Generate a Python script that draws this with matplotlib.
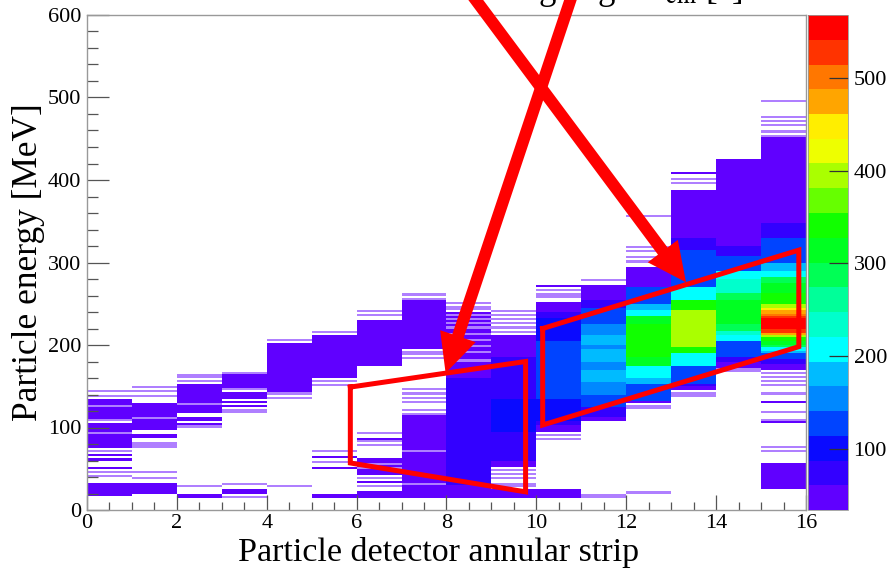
import numpy as np
import matplotlib
matplotlib.use("Agg")
import matplotlib.pyplot as plt
from matplotlib.colors import ListedColormap, BoundaryNorm
from matplotlib.ticker import MultipleLocator

plt.rcParams['font.family'] = ['Liberation Serif', 'DejaVu Serif']
plt.rcParams['mathtext.fontset'] = 'stix'

# ---------------- data ----------------
n_strips = 16
e_max = 600.0
bin_width = 2.5

# dense filled ranges: (strip, E low [MeV], E high [MeV], counts); later entries overwrite earlier
dense_segments = [
    (0, 76, 92, 47), (0, 96, 106, 47), (0, 110, 124, 47), (0, 128, 136, 47), (0, 18, 32, 47),
    (1, 97, 110, 47), (1, 113, 131, 47), (1, 21, 33, 47),
    (2, 117, 128, 47), (2, 131, 152, 47),
    (3, 136, 143, 47), (3, 147, 166, 47),
    (4, 142, 202, 47),
    (5, 160, 212, 47), (5, 178, 200, 60), (5, 16, 21, 47),
    (6, 174, 231, 47), (6, 188, 220, 60), (6, 42, 62, 47), (6, 16, 19, 47),
    (7, 196, 255, 47), (7, 208, 242, 60), (7, 16, 118, 47), (7, 45, 95, 60),
    (8, 176, 240, 47), (8, 18, 174, 47), (8, 30, 160, 66), (8, 45, 110, 74),
    (9, 52, 212, 47), (9, 60, 185, 74), (9, 95, 135, 101), (9, 15, 24, 47),
    (10, 97, 252, 47), (10, 102, 240, 74), (10, 108, 232, 101), (10, 135, 205, 127),
    (10, 16, 24, 47),
    (11, 107, 273, 47), (11, 112, 255, 74), (11, 125, 246, 127), (11, 140, 226, 154),
    (11, 155, 212, 181), (11, 170, 180, 154), (11, 195, 200, 154),
    (12, 129, 295, 47), (12, 133, 271, 127), (12, 153, 250, 181), (12, 160, 242, 207),
    (12, 174, 234, 314), (12, 185, 225, 341),
    (13, 145, 388, 47), (13, 150, 330, 74), (13, 153, 315, 127), (13, 174, 271, 207),
    (13, 190, 255, 341), (13, 198, 243, 394),
    (14, 173, 422, 47), (14, 180, 320, 74), (14, 186, 307, 127), (14, 206, 291, 207),
    (14, 212, 280, 234), (14, 218, 262, 287), (14, 225, 255, 314),
    (15, 170, 450, 47), (15, 178, 348, 74), (15, 182, 330, 127), (15, 190, 299, 181),
    (15, 192, 290, 207), (15, 198, 283, 287), (15, 200, 275, 314), (15, 204, 262, 341),
    (15, 210, 250, 394), (15, 212, 246, 447), (15, 213, 242, 474), (15, 215, 238, 501),
    (15, 216, 236, 527), (15, 220, 232, 554), (15, 24, 58, 47),
]

# isolated single-bin lines: (strip, E [MeV])
single_lines = [
    (0, 61), (0, 52), (0, 66),
    (1, 88), (1, 92),
    (2, 112), (2, 108), (2, 103), (2, 18), (2, 15),
    (3, 131), (3, 126), (3, 24), (3, 20),
    (5, 64), (5, 50),
    (6, 87), (6, 33), (6, 22),
    (8, 16),
    (10, 270), (10, 95),
    (13, 408),
    (14, 424),
    (15, 131), (15, 105), (15, 452),
]

# faint (few-count) lines: (strip, E [MeV])
faint_lines = [
    (0, 139), (0, 143), (0, 94), (0, 108), (0, 126), (0, 70), (0, 45), (0, 40),
    (1, 149), (1, 143), (1, 138), (1, 111), (1, 76), (1, 78), (1, 80), (1, 45), (1, 39),
    (2, 164), (2, 160), (2, 156), (2, 129), (2, 100), (2, 28),
    (3, 167), (3, 145), (3, 122), (3, 119), (3, 30), (3, 16),
    (4, 206), (4, 137), (4, 140), (4, 28),
    (5, 216), (5, 152), (5, 156), (5, 70), (5, 58),
    (6, 240), (6, 236), (6, 93), (6, 84), (6, 78), (6, 50), (6, 56), (6, 38), (6, 28),
    (7, 261), (7, 257), (7, 192), (7, 188), (7, 184), (7, 145), (7, 140), (7, 135),
    (7, 130), (7, 121), (7, 115), (7, 70), (7, 30),
    (8, 251), (8, 247), (8, 243), (8, 236), (8, 232), (8, 226), (8, 220), (8, 214),
    (8, 205), (8, 198), (8, 190), (8, 182),
    (9, 242), (9, 237), (9, 232), (9, 226), (9, 220), (9, 215), (9, 48), (9, 44),
    (9, 38), (9, 32), (9, 28),
    (10, 266), (10, 262), (10, 258), (10, 91), (10, 87),
    (11, 279), (11, 16), (11, 18),
    (12, 357), (12, 319), (12, 313), (12, 307), (12, 300), (12, 126), (12, 124), (12, 21),
    (13, 402), (13, 396), (13, 142), (13, 139),
    (14, 170), (14, 168),
    (15, 495), (15, 476), (15, 470), (15, 466), (15, 458), (15, 453), (15, 166),
    (15, 160), (15, 156), (15, 150), (15, 140), (15, 118), (15, 108), (15, 75), (15, 70),
]
line_counts = 47

z_min, z_max, n_levels = 34, 568, 20
palette = ['#6000ff', '#3300ff', '#0a0aff', '#0044ff', '#0088ff', '#00bbff', '#00ffff',
           '#00ffcc', '#00ff99', '#00ff55', '#00ff22', '#11ff00', '#66ff00', '#aaff00',
           '#eeff00', '#ffee00', '#ffa500', '#ff7700', '#ff3300', '#ff0000']
cbar_ticks = [100, 200, 300, 400, 500]

# annotation regions (strip, MeV)
region_low = [(5.86, 149), (9.76, 180), (9.76, 22), (5.86, 57)]
region_high = [(10.14, 220), (15.84, 315), (15.84, 198), (10.14, 103)]
arrow_to_high = ((8.49, 630), (13.33, 276))
arrow_to_low = ((10.83, 630), (7.98, 166))

# ---------------- build histogram grid ----------------
x_edges = np.arange(n_strips + 1)
y_edges = np.arange(0, e_max + bin_width, bin_width)
y_cent = 0.5 * (y_edges[:-1] + y_edges[1:])
Z = np.full((len(y_cent), n_strips), np.nan)
Zf = np.full((len(y_cent), n_strips), np.nan)
for s, lo, hi, c in dense_segments:
    m = (y_cent >= lo) & (y_cent <= hi)
    Z[m, s] = c
for s, e in single_lines:
    Z[int(e // bin_width), s] = line_counts
for s, e in faint_lines:
    i = int(e // bin_width)
    Z[i, s] = np.nan
    Zf[i, s] = line_counts

cmap = ListedColormap(palette)
norm = BoundaryNorm(np.linspace(z_min, z_max, n_levels + 1), n_levels)

# ---------------- figure ----------------
fig = plt.figure(figsize=(8.89, 5.68), dpi=100)
ax = fig.add_axes([87 / 889, 58 / 568, 719 / 889, 495 / 568])
cax = fig.add_axes([808 / 889, 58 / 568, 40 / 889, 495 / 568])

mesh = ax.pcolormesh(x_edges, y_edges, np.ma.masked_invalid(Z), cmap=cmap, norm=norm,
                     shading='flat', antialiased=False, edgecolors='none')
ax.pcolormesh(x_edges, y_edges, np.ma.masked_invalid(Zf), cmap=cmap, norm=norm,
              shading='flat', antialiased=False, edgecolors='none', alpha=0.5)

ax.set_xlim(0, 16)
ax.set_ylim(0, 600)
ax.xaxis.set_major_locator(MultipleLocator(2))
ax.xaxis.set_minor_locator(MultipleLocator(0.5))
ax.yaxis.set_major_locator(MultipleLocator(100))
ax.yaxis.set_minor_locator(MultipleLocator(20))
ax.tick_params(axis='both', which='both', direction='in', color='#555555', width=0.9,
               labelsize=16, top=False, right=False)
ax.tick_params(axis='y', which='major', length=16, pad=4)
ax.tick_params(axis='y', which='minor', length=8)
ax.tick_params(axis='x', which='major', length=11, pad=3)
ax.tick_params(axis='x', which='minor', length=5.5)
for sp in ax.spines.values():
    sp.set_color('#999999')
    sp.set_linewidth(1.0)

ax.set_xlabel('Particle detector annular strip', fontsize=24.5, labelpad=0)
ax.xaxis.set_label_coords(0.489, -0.055)
ax.set_ylabel('Particle energy [MeV]', fontsize=25.5, labelpad=2)

# regions
for poly in (region_low, region_high):
    xs = [p[0] for p in poly] + [poly[0][0]]
    ys = [p[1] for p in poly] + [poly[0][1]]
    ax.plot(xs, ys, color='red', lw=3.6, solid_joinstyle='miter', clip_on=False, zorder=5)

# arrows
for (start, tip) in (arrow_to_high, arrow_to_low):
    ax.annotate('', xy=tip, xytext=start,
                arrowprops=dict(arrowstyle='simple,head_length=28,head_width=27,tail_width=8.6',
                                mutation_scale=1, fc='red', ec='none', lw=0,
                                shrinkA=0, shrinkB=0),
                annotation_clip=False, zorder=6)

# colorbar
cb = fig.colorbar(mesh, cax=cax, ticks=cbar_ticks)
cb.outline.set_edgecolor('#999999')
cb.outline.set_linewidth(0.6)
cax.tick_params(direction='in', length=14, color='#333333', width=0.9, labelsize=16, pad=4)
cax.minorticks_off()

# title of the upper panel, cut off by the top edge as in the source figure
fig.text(742 / 889, 1 + 1 / 568, 'Scattering angle θ$_{\\rm cm}$ [°]', ha='right',
         va='baseline', fontsize=25)

fig.savefig('out.png', dpi=100)
